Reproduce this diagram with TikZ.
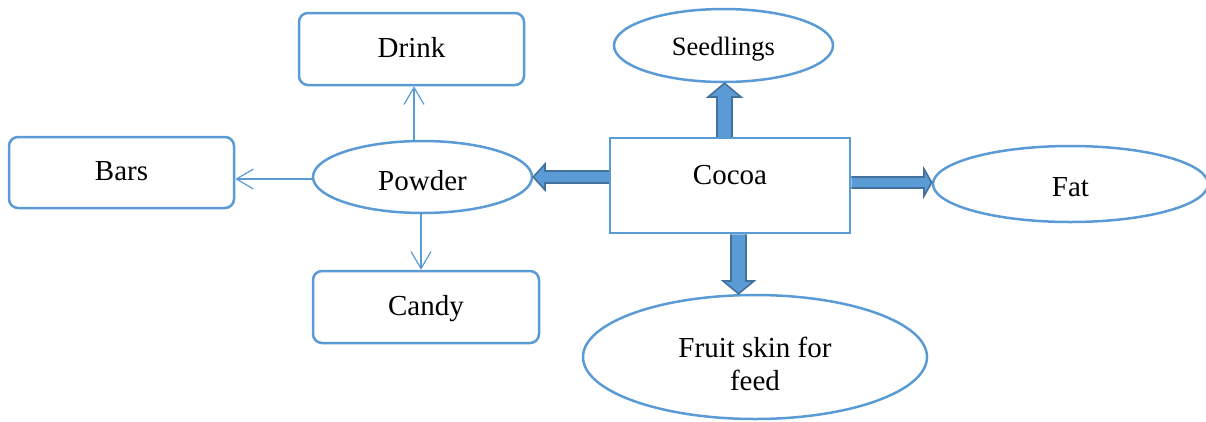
\documentclass[tikz,border=0pt]{standalone}
\usepackage{fontspec}
\setmainfont{Liberation Serif}
\usetikzlibrary{shapes.geometric,calc,arrows.meta}
\definecolor{bl}{HTML}{5B9BD5}
\definecolor{dbl}{HTML}{41719C}
\tikzset{
  mainfont/.style={font=\fontsize{29}{33}\selectfont},
  rbox/.style={draw=bl, line width=2.5pt, rounded corners=9pt, inner sep=0pt, mainfont},
  ell/.style={ellipse, draw=bl, line width=2.5pt, inner sep=0pt, mainfont},
  sbox/.style={draw=bl, line width=2.5pt, inner sep=0pt, mainfont},
  thin/.style={draw=bl, line width=1.2pt, -{Straight Barb[length=17pt,width=20pt,line width=1.2pt]}},
  block/.style={fill=bl, draw=dbl, line width=1.6pt, line join=miter}
}
\begin{document}
\begin{tikzpicture}[x=1pt,y=-1pt]
\useasboundingbox (0,0) rectangle (1206,421);
\node[rbox, minimum width=225pt, minimum height=72pt, text height=20pt, text depth=4pt] (drink) at (411.5,49) {Drink};
\node[ell, minimum width=219pt, minimum height=73pt, text height=23pt, text depth=4pt, font=\fontsize{26.5}{30}\selectfont] (seed) at (723.5,45.5) {Seedlings};
\node[rbox, minimum width=225pt, minimum height=71pt, text height=20pt, text depth=4pt] (bars) at (121.5,172.5) {Bars};
\node[ell, minimum width=219pt, minimum height=72pt, text height=30pt, text depth=4pt] (powder) at (422.5,177) {Powder};
\node[sbox, minimum width=240pt, minimum height=95pt, text height=20pt, text depth=23pt] (cocoa) at (730,185.5) {Cocoa};
\node[ell, minimum width=275pt, minimum height=76pt, text height=28pt, text depth=4pt] (fat) at (1070.5,184) {Fat};
\node[rbox, minimum width=226pt, minimum height=72pt, text height=20pt, text depth=4pt] (candy) at (426,307) {Candy};
\node[ell, minimum width=344pt, minimum height=124pt, align=center] (fruit) at (755,357) {\rule{0pt}{34pt}Fruit skin for\\feed};
% thin arrows
\draw[thin] (powder.north -| 414,0) -- (drink.south -| 414,0);
\draw[thin] (powder.west |- 0,179) -- (bars.east |- 0,179);
\draw[thin] (powder.south -| 421,0) -- (candy.north -| 421,0);
% block arrows
\draw[block] (cocoa.north -| 717,0) -- (717,97) -- (708,97) -- (seed.south -| 724.5,0) -- (741,97) -- (732,97) -- (cocoa.north -| 732,0);
\draw[block] (cocoa.west |- 0,171) -- (545,171) -- (545,164) -- (powder.east |- 0,177) -- (545,190) -- (545,183) -- (cocoa.west |- 0,183);
\draw[block] (cocoa.east |- 0,177) -- (924,177) -- (924,169) -- (fat.west |- 0,182.5) -- (924,196) -- (924,188) -- (cocoa.east |- 0,188);
\draw[block] (cocoa.south -| 731,0) -- (731,281) -- (723,281) -- (fruit.north -| 738.5,0) -- (754,281) -- (746,281) -- (cocoa.south -| 746,0);
\end{tikzpicture}
\end{document}
